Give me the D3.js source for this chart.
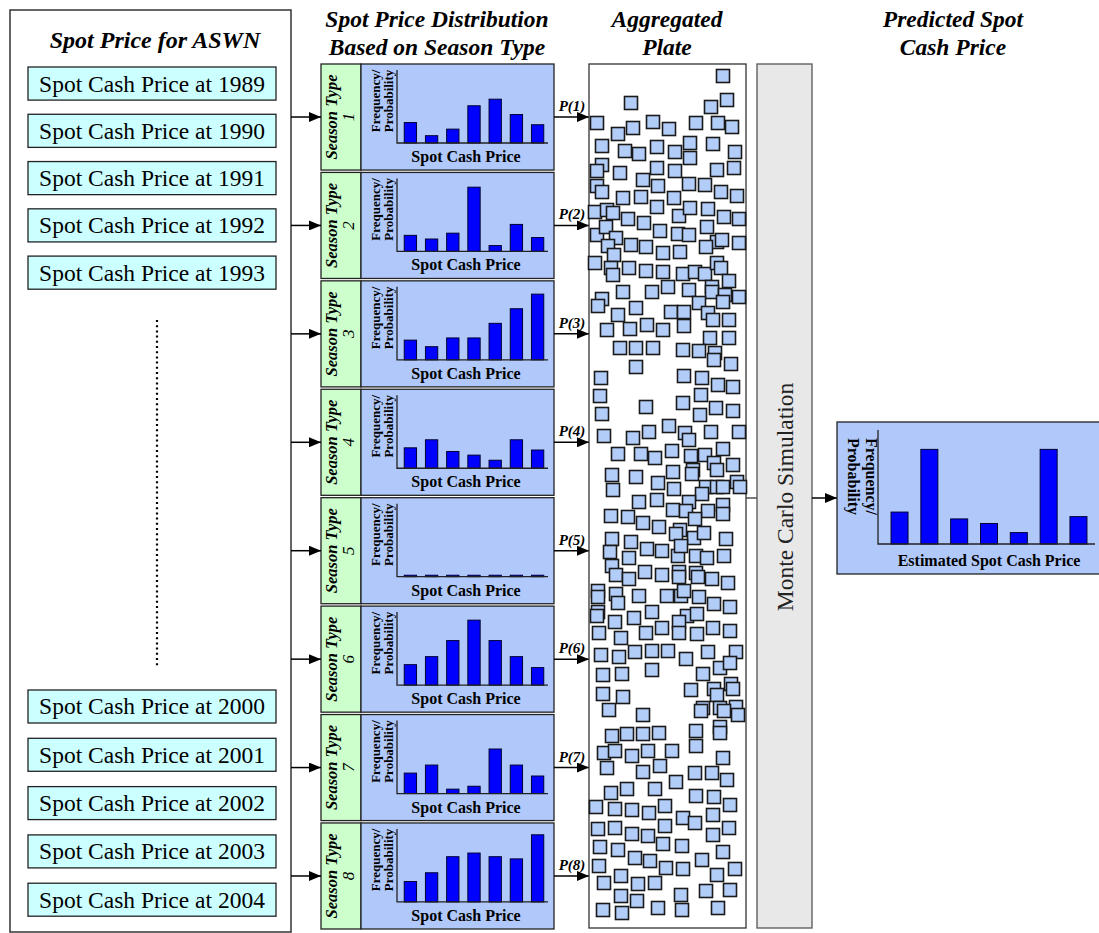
<!DOCTYPE html>
<html>
<head>
<meta charset="utf-8">
<script src="https://cdn.jsdelivr.net/npm/d3@7"></script>
<style>
body { margin: 0; background: #fff; }
svg { display: block; font-family: "Liberation Serif", "Times New Roman", serif; }
</style>
</head>
<body>
<div id="chart"></div>
<script>
// years listed in the left box
var yearsTop = [1989, 1990, 1991, 1992, 1993];
var yearsBottom = [2000, 2001, 2002, 2003, 2004];

// frequency / probability per season type (7 price bins, share of axis height)
var seasonTypes = [1, 2, 3, 4, 5, 6, 7, 8];
var season1 = [0.28, 0.10, 0.19, 0.51, 0.60, 0.39, 0.25];
var season2 = [0.22, 0.17, 0.25, 0.88, 0.08, 0.37, 0.19];
var season3 = [0.27, 0.18, 0.30, 0.30, 0.50, 0.70, 0.90];
var season4 = [0.28, 0.39, 0.23, 0.18, 0.11, 0.39, 0.25];
var season5 = [0.02, 0.02, 0.02, 0.02, 0.02, 0.02, 0.02];
var season6 = [0.28, 0.39, 0.61, 0.89, 0.61, 0.39, 0.24];
var season7 = [0.28, 0.39, 0.06, 0.10, 0.61, 0.39, 0.24];
var season8 = [0.28, 0.40, 0.62, 0.67, 0.62, 0.59, 0.92];
var seasonFreq = [season1, season2, season3, season4, season5, season6, season7, season8];

// predicted (estimated) distribution
var predicted = [0.28, 0.83, 0.22, 0.18, 0.10, 0.83, 0.24];

// samples in the aggregated plate, [x, y] inside the plate (157 x 864 units)
var plateTop = [
  [134,12],[42,39],[122,43],[138,36],[8,59],[29,70],[44,64],[64,58],[80,65],[107,59],[129,59],[143,63],
  [13,82],[36,87],[50,90],[68,83],[86,88],[101,79],[101,94],[124,80],[146,88],
  [13,101],[8,107],[31,109],[54,116],[68,104],[86,107],[128,106],[145,104],
  [8,122],[13,128],[34,134],[52,133],[69,122],[85,134],[100,120],[116,121],[132,128],[148,132],
  [6,148],[18,146],[24,149],[39,155],[55,159],[68,143],[90,152],[101,144],[119,145],[135,153],[150,155],
  [8,171],[17,163],[27,174],[71,167],[89,170],[100,171],[118,163],[128,178],[133,176],[150,179],
  [19,182],[25,191],[42,181],[57,183],[74,189],[91,188],[117,183],
  [6,199],[22,204],[24,211],[40,204],[57,207],[74,208],[94,210],[106,208],[116,210],[128,199],[132,204],[140,217],
  [34,228],[63,228],[79,223],[100,226],[123,223],[123,228],[136,231],[150,233],
  [13,235],[9,242],[47,244],[82,248],[95,248],[110,239],[119,249],[124,256],[134,238],[140,256],
  [29,251],[18,266],[41,265],[58,261],[74,266],[95,262],[121,274],[140,274],
  [31,284],[47,284],[64,284],[94,286],[110,287],[126,289]
];
var plateMiddle = [
  [47,303],[125,296],[142,300],[12,314],[95,312],[113,314],[129,321],[144,323],
  [11,332],[112,331],[57,343],[94,339],[127,344],[144,347],[111,351],[13,350],
  [15,372],[44,374],[60,368],[80,362],[96,369],[100,376],[122,368],[150,368],
  [29,390],[52,390],[66,394],[83,387],[102,392],[116,391],[134,385],[125,399],[128,406],[144,401],
  [23,411],[47,413],[69,419],[84,408],[104,406],[103,410],
  [24,426],[85,425],[117,423],[128,423],[134,423],[148,418],[151,423],[113,430],
  [50,438],[68,436],[100,438],[134,441],
  [22,452],[39,453],[84,446],[97,447],[119,447],[134,450],[106,455],
  [54,459],[70,463],[91,466],[87,470],[105,474],[115,469],
  [23,475],[42,478],[137,475],
  [21,488],[40,494],[58,485],[73,487],[89,492],[92,482],[107,492],[118,494],[135,492],
  [23,502],[27,511],[40,515],[56,508],[73,511],[90,508],[90,513],[107,509],[109,513],[123,515],[139,519],
  [9,527],[9,533],[27,530],[29,539],[50,532],[78,532],[92,532],[95,527],[110,533],[125,540],[141,543],
  [9,548],[8,552],[26,558],[45,554],[63,548],[98,552],[108,550],[90,558],[73,564],[124,564],[141,567],
  [10,569],[32,574],[57,569],[90,569],[108,570]
];
var plateBottom = [
  [12,591],[30,593],[46,588],[63,587],[79,587],[97,595],[119,588],[147,588],
  [14,611],[33,610],[63,606],[114,610],[131,604],[141,599],
  [14,630],[34,633],[102,626],[125,625],[142,620],[144,625],[128,631],
  [20,646],[54,651],[114,644],[131,644],[147,643],[135,647],[149,651],[112,647],
  [23,672],[38,670],[54,670],[70,669],[107,667],[131,663],[131,669],
  [15,689],[26,687],[43,692],[59,687],[83,687],[107,682],[134,694],
  [18,704],[54,708],[71,702],[87,718],[106,709],[123,709],[138,716],
  [22,729],[38,725],[66,725],[107,732],[125,733],[141,741],
  [7,743],[26,745],[43,746],[60,749],[76,742],[94,754],[106,759],[124,751],
  [9,765],[26,764],[43,770],[59,772],[76,762],[124,771],[140,764],
  [11,783],[29,786],[74,780],[93,782],[134,788],
  [10,802],[46,794],[61,797],[77,804],[94,805],[113,796],[146,805],
  [15,819],[32,812],[49,820],[66,819],[128,811],
  [32,832],[48,837],[92,831],[117,827],[141,826],
  [14,846],[33,849],[69,844],[93,846],[129,844]
];

var width = 1099, height = 933;
var blueFill = "#b0c9fa", greenFill = "#ccffcc", cyanFill = "#ccffff";

var svg = d3.select("#chart").append("svg")
    .attr("width", width)
    .attr("height", height);

svg.append("rect").attr("width", width).attr("height", height).attr("fill", "#fff");

var defs = svg.append("defs");
defs.append("marker")
    .attr("id", "arrow")
    .attr("viewBox", "0 0 12 10")
    .attr("refX", 12).attr("refY", 5)
    .attr("markerUnits", "userSpaceOnUse")
    .attr("markerWidth", 13).attr("markerHeight", 10)
    .attr("orient", "auto")
  .append("path")
    .attr("d", "M0,0L12,5L0,10z")
    .attr("fill", "#000");

function arrow(x1, x2, y) {
  svg.append("line")
      .attr("x1", x1).attr("x2", x2)
      .attr("y1", y).attr("y2", y)
      .attr("stroke", "#000").attr("stroke-width", 1.5)
      .attr("marker-end", "url(#arrow)");
}

// headers
function title(lines, x) {
  var t = svg.append("text")
      .attr("text-anchor", "middle")
      .attr("font-weight", "bold").attr("font-style", "italic")
      .attr("font-size", 23.5);
  lines.forEach(function(l, i) {
    t.append("tspan").attr("x", x).attr("y", 27 + i * 28).text(l);
  });
}
title(["Spot Price Distribution", "Based on Season Type"], 437);
title(["Aggregated", "Plate"], 667);
title(["Predicted Spot", "Cash Price"], 953);

// ---- left box: spot price per year ----
svg.append("rect")
    .attr("x", 10).attr("y", 10).attr("width", 281).attr("height", 922)
    .attr("fill", "#fff").attr("stroke", "#333").attr("stroke-width", 1.5);

svg.append("text")
    .attr("x", 155).attr("y", 48)
    .attr("text-anchor", "middle")
    .attr("font-weight", "bold").attr("font-style", "italic")
    .attr("font-size", 24)
    .text("Spot Price for ASWN");

var yTopYears = d3.scaleBand().domain(yearsTop).range([67, 289.2]).paddingInner(0.3);
var yBottomYears = d3.scaleBand().domain(yearsBottom).range([690, 916.2]).paddingInner(0.317);

function yearBoxes(years, scale) {
  var g = svg.append("g").selectAll("g")
      .data(years)
      .enter()
      .append("g")
      .attr("transform", function(d) { return "translate(28," + scale(d) + ")"; });
  g.append("rect")
      .attr("width", 248)
      .attr("height", scale.bandwidth())
      .attr("fill", cyanFill)
      .attr("stroke", "#222").attr("stroke-width", 1.3);
  g.append("text")
      .attr("x", 124)
      .attr("y", scale.bandwidth() / 2 + 8)
      .attr("text-anchor", "middle")
      .attr("font-size", 23.5)
      .text(function(d) { return "Spot Cash Price at " + d; });
}
yearBoxes(yearsTop, yTopYears);
yearBoxes(yearsBottom, yBottomYears);

svg.append("line")
    .attr("x1", 157).attr("x2", 157)
    .attr("y1", 320).attr("y2", 668)
    .attr("stroke", "#000").attr("stroke-width", 2.2)
    .attr("stroke-dasharray", "2,3.2");

// ---- season type panels ----
var panelY = d3.scaleBand().domain(seasonTypes).range([64, 929]).paddingInner(0.022);
var binX = d3.scaleBand().domain(d3.range(7)).range([400, 548]).paddingInner(0.42).paddingOuter(0.2);

seasonTypes.forEach(function(s, i) {
  var top = panelY(s);
  var h = panelY.bandwidth();
  var cy = top + h / 2;
  var yScale = d3.scaleLinear().domain([0, 1]).range([top + 79, top + 6]);

  var g = svg.append("g").attr("class", "panel");

  g.append("rect")
      .attr("x", 321).attr("y", top).attr("width", 40).attr("height", h)
      .attr("fill", greenFill).attr("stroke", "#222").attr("stroke-width", 1.3);
  g.append("rect")
      .attr("x", 361).attr("y", top).attr("width", 193).attr("height", h)
      .attr("fill", blueFill).attr("stroke", "#222").attr("stroke-width", 1.3);

  g.append("text")
      .attr("transform", "translate(337," + cy + ") rotate(-90)")
      .attr("text-anchor", "middle")
      .attr("font-weight", "bold").attr("font-style", "italic")
      .attr("font-size", 16.5)
      .text("Season Type");
  g.append("text")
      .attr("transform", "translate(354," + cy + ") rotate(-90)")
      .attr("text-anchor", "middle")
      .attr("font-style", "italic")
      .attr("font-size", 17)
      .text(s);

  var ft = g.append("text")
      .attr("transform", "translate(380," + (top + 37) + ") rotate(-90)")
      .attr("text-anchor", "middle")
      .attr("font-weight", "bold")
      .attr("font-size", 13);
  ft.append("tspan").attr("x", 0).attr("y", 0).text("Frequency/");
  ft.append("tspan").attr("x", 0).attr("y", 12.5).text("Probability");

  g.selectAll("rect.bar")
      .data(seasonFreq[i])
      .enter()
      .append("rect")
      .attr("class", "bar")
      .attr("x", function(d, j) { return binX(j); })
      .attr("y", function(d) { return yScale(d); })
      .attr("width", binX.bandwidth())
      .attr("height", function(d) { return yScale(0) - yScale(d); })
      .attr("fill", "#0000ff").attr("stroke", "#000033").attr("stroke-width", 1);

  g.append("path")
      .attr("d", "M397," + yScale.range()[1] + "V" + yScale(0) + "H548")
      .attr("fill", "none").attr("stroke", "#222").attr("stroke-width", 1.3);

  g.append("text")
      .attr("x", 466).attr("y", top + 98)
      .attr("text-anchor", "middle")
      .attr("font-weight", "bold")
      .attr("font-size", 16)
      .text("Spot Cash Price");

  arrow(291, 321, cy);
  arrow(554, 589, cy);

  g.append("text")
      .attr("x", 572).attr("y", cy - 6)
      .attr("text-anchor", "middle")
      .attr("font-weight", "bold").attr("font-style", "italic")
      .attr("font-size", 15)
      .text("P(" + s + ")");
});

// ---- aggregated plate ----
var plateX = d3.scaleLinear().domain([0, 157]).range([589, 746]);
var plateY = d3.scaleLinear().domain([0, 864]).range([64, 928]);
var sq = 13;

svg.append("rect")
    .attr("x", 589).attr("y", 64).attr("width", 157).attr("height", 864)
    .attr("fill", "#fff").attr("stroke", "#333").attr("stroke-width", 1.3);

svg.append("g").selectAll("rect")
    .data(plateTop.concat(plateMiddle, plateBottom))
    .enter()
    .append("rect")
    .attr("x", function(d) { return plateX(d[0]) - sq / 2; })
    .attr("y", function(d) { return plateY(d[1]) - sq / 2; })
    .attr("width", sq).attr("height", sq)
    .attr("fill", "#b3cdf9").attr("stroke", "#1a1a1a").attr("stroke-width", 1.6);

// ---- Monte Carlo simulation ----
svg.append("line")
    .attr("x1", 746).attr("x2", 757).attr("y1", 498).attr("y2", 498)
    .attr("stroke", "#333").attr("stroke-width", 1.3);

svg.append("rect")
    .attr("x", 757).attr("y", 64).attr("width", 55).attr("height", 864)
    .attr("fill", "#e8e8e8").attr("stroke", "#555").attr("stroke-width", 1.3);

svg.append("text")
    .attr("transform", "translate(785,497) rotate(-90)")
    .attr("text-anchor", "middle")
    .attr("dy", "0.33em")
    .attr("font-size", 23.5)
    .attr("fill", "#222")
    .text("Monte Carlo Simulation");

arrow(812, 837, 498);

// ---- predicted spot cash price ----
var predX = d3.scaleBand().domain(d3.range(7)).range([880, 1098]).paddingInner(0.43).paddingOuter(0.37);
var predY = d3.scaleLinear().domain([0, 1]).range([544, 430]);

svg.append("rect")
    .attr("x", 837).attr("y", 422).attr("width", 270).attr("height", 152)
    .attr("fill", blueFill).attr("stroke", "#222").attr("stroke-width", 1.3);

svg.append("g").selectAll("rect")
    .data(predicted)
    .enter()
    .append("rect")
    .attr("x", function(d, j) { return predX(j); })
    .attr("y", function(d) { return predY(d); })
    .attr("width", predX.bandwidth())
    .attr("height", function(d) { return predY(0) - predY(d); })
    .attr("fill", "#0000ff").attr("stroke", "#000033").attr("stroke-width", 1);

svg.append("path")
    .attr("d", "M878,430V544H1095")
    .attr("fill", "none").attr("stroke", "#222").attr("stroke-width", 1.3);

var pt = svg.append("text")
    .attr("transform", "translate(866,438) rotate(90)")
    .attr("font-weight", "bold")
    .attr("font-size", 16);
pt.append("tspan").attr("x", 0).attr("y", 0).text("Frequency/");
pt.append("tspan").attr("x", 0).attr("y", 18).text("Probability");

svg.append("text")
    .attr("x", 989).attr("y", 566)
    .attr("text-anchor", "middle")
    .attr("font-weight", "bold")
    .attr("font-size", 16)
    .text("Estimated Spot Cash Price");
</script>
</body>
</html>
